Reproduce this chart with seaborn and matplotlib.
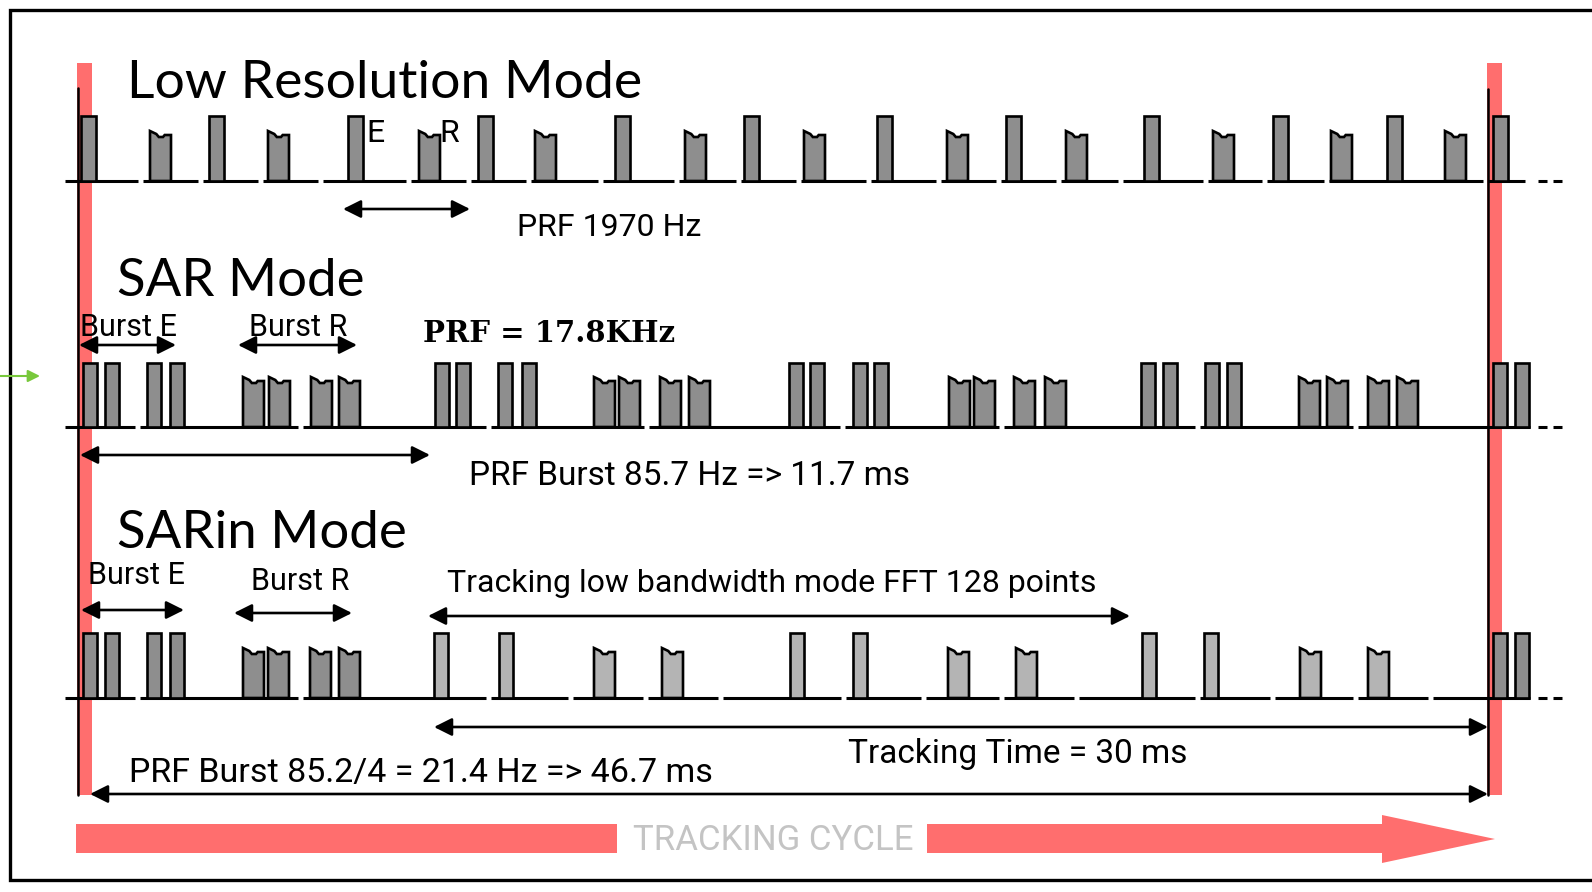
import matplotlib
matplotlib.use("Agg")
import matplotlib.pyplot as plt
import seaborn as sns

# pulse left edges (pixel units of the original drawing), per mode
lowres_e = [81, 209, 348, 478, 615, 744, 877, 1006, 1144, 1273, 1387, 1493]
lowres_r = [150, 268, 419, 535, 685, 804, 947, 1066, 1213, 1331, 1445]
lowres_gaps = [140, 200, 260, 320, 408, 468, 528, 600, 676, 738, 798, 868,
               938, 998, 1058, 1120, 1205, 1264, 1326, 1485]

sar_e = [83, 105, 147, 170, 435, 456, 498, 522, 789, 810, 853, 874,
         1141, 1163, 1205, 1227, 1493, 1515]
sar_r = [243, 269, 311, 339, 594, 619, 660, 689, 949, 974, 1014, 1045,
         1299, 1327, 1368, 1397]
sar_gaps = [137, 300, 488, 646, 842, 1001, 1197, 1355]

sarin_e = [83, 105, 147, 170, 1493, 1515]
sarin_r = [243, 268, 310, 339]
sarin_trk_e = [434, 499, 790, 853, 1142, 1204]
sarin_trk_r = [594, 662, 948, 1016, 1300, 1368]
sarin_gaps = [137, 300, 488, 570, 645, 720, 843, 923, 1001, 1076, 1197,
              1272, 1355, 1430]

# rows: baseline y, tall-pulse top, notched-pulse top
rows = {
    "lowres": (181, 116, 131),
    "sar": (427, 363, 377),
    "sarin": (698, 633, 648),
}

RED = "#ff6e6e"
DARK = "#8e8e8e"
LIGHT = "#b4b4b4"
NARROW = ["Roboto", "DejaVu Sans"]
TITLE = ["Lato", "DejaVu Sans"]

sns.set_theme(style="white")
plt.rcParams["font.family"] = NARROW
plt.rcParams["text.color"] = "black"

fig = plt.figure(figsize=(15.92, 8.92), dpi=100)
ax = fig.add_axes([0, 0, 1, 1])
ax.set_xlim(0, 1592)
ax.set_ylim(892, 0)
ax.axis("off")


def tall(x0, row, w=14, fc=DARK):
    base, top, _ = rows[row]
    ax.fill([x0, x0, x0 + w, x0 + w], [base, top, top, base],
            fc=fc, ec="black", lw=1.9, joinstyle="miter", zorder=3)


def notched(x0, row, w=21, fc=DARK):
    base, _, top = rows[row]
    xs = [x0, x0, x0 + 0.3 * w, x0 + 0.42 * w, x0 + 0.62 * w, x0 + 0.7 * w,
          x0 + w, x0 + w]
    ys = [base, top, top + 3, top + 6, top + 6, top + 4, top + 4, base]
    ax.fill(xs, ys, fc=fc, ec="black", lw=1.9, zorder=3)


def baseline(row, gaps, start=65, end=1528):
    y = rows[row][0]
    edges = [start] + list(gaps) + [end]
    for a, b in zip(edges[:-1], edges[1:]):
        ax.plot([a + 2.5 if a != start else a, b - 2.5 if b != end else b],
                [y, y], color="black", lw=2.2, solid_capstyle="butt", zorder=2)
    ax.plot([1538, 1547], [y, y], color="black", lw=2.2, solid_capstyle="butt")
    ax.plot([1553, 1562], [y, y], color="black", lw=2.2, solid_capstyle="butt")


def arrow(x0, x1, y, lw=1.9):
    ax.annotate("", xy=(x1, y), xytext=(x0, y),
                arrowprops=dict(arrowstyle="<|-|>,head_length=0.9,head_width=0.45",
                                color="black", lw=lw, shrinkA=0, shrinkB=0),
                zorder=4)


# frame
ax.plot([1592, 10, 10, 1592], [10, 10, 880, 880], color="black", lw=2.4,
        solid_joinstyle="miter")

# red cycle markers and black time marks
for xr in (77, 1487):
    ax.fill([xr, xr, xr + 15, xr + 15], [795, 63, 63, 795], fc=RED, ec="none", zorder=1)
ax.plot([78, 78], [88, 795], color="black", lw=1.8, zorder=5)
ax.plot([1488, 1488], [89, 795], color="black", lw=1.8, zorder=5)

# Low resolution row
baseline("lowres", lowres_gaps, end=1525)
for x in lowres_e:
    tall(x, "lowres", w=15)
for x in lowres_r:
    notched(x, "lowres", w=21)

# SAR row
baseline("sar", sar_gaps, end=1530)
for x in sar_e:
    tall(x, "sar", w=14)
for x in sar_r:
    notched(x, "sar", w=21)

# SARin row
baseline("sarin", sarin_gaps, end=1530)
for x in sarin_e:
    tall(x, "sarin", w=14)
for x in sarin_r:
    notched(x, "sarin", w=21)
for x in sarin_trk_e:
    tall(x, "sarin", w=14, fc=LIGHT)
for x in sarin_trk_r:
    notched(x, "sarin", w=21, fc=LIGHT)

# titles
ax.text(127, 83, "Low Resolution Mode", fontsize=38.5, family=TITLE, va="center", ha="left")
ax.text(117, 281, "SAR Mode", fontsize=38, family=TITLE, va="center", ha="left")
ax.text(117, 533, "SARin Mode", fontsize=38, family=TITLE, va="center", ha="left")

# low resolution labels
ax.text(366, 134, "E", fontsize=23, va="center", ha="left")
ax.text(439, 134, "R", fontsize=23, va="center", ha="left")
arrow(343, 470, 209)
ax.text(517, 228, "PRF 1970 Hz", fontsize=23, va="center", ha="left")

# SAR labels
ax.text(80, 327, "Burst E", fontsize=22, va="center", ha="left")
ax.text(249, 327, "Burst R", fontsize=22, va="center", ha="left")
arrow(79, 176, 345)
arrow(238, 357, 345)
ax.text(423, 333, "PRF = 17.8KHz", fontsize=21, fontweight="bold",
        family=["DejaVu Serif"], va="center", ha="left")
arrow(80, 430, 455)
ax.text(469, 476, "PRF Burst 85.7 Hz => 11.7 ms", fontsize=24, va="center", ha="left")

# SARin labels
ax.text(88, 576, "Burst E", fontsize=22, va="center", ha="left")
ax.text(251, 581, "Burst R", fontsize=22, va="center", ha="left")
arrow(81, 184, 610)
arrow(234, 352, 613)
ax.text(447, 583, "Tracking low bandwidth mode FFT 128 points", fontsize=23,
        va="center", ha="left")
arrow(428, 1130, 616)
arrow(434, 1488, 727)
ax.text(848, 754, "Tracking Time = 30 ms", fontsize=24, va="center", ha="left")
ax.text(129, 773, "PRF Burst 85.2/4 = 21.4 Hz => 46.7 ms", fontsize=24.5,
        va="center", ha="left")
arrow(90, 1488, 794)

# tracking cycle big arrow
ax.fill([76, 76, 617, 617], [853, 824, 824, 853], fc=RED, ec="none")
ax.fill([927, 927, 1382, 1382, 1495, 1382, 1382],
        [853, 824, 824, 815, 839, 863, 853], fc=RED, ec="none")
ax.text(773, 840, "TRACKING CYCLE", fontsize=25, color="#c4c4c4",
        va="center", ha="center")

# small green pointer on the left
ax.annotate("", xy=(40, 376), xytext=(0, 376),
            arrowprops=dict(arrowstyle="-|>,head_length=0.6,head_width=0.3",
                            color="#78c83c", lw=1.5, shrinkA=0, shrinkB=0))

fig.savefig("out.png", dpi=100)
